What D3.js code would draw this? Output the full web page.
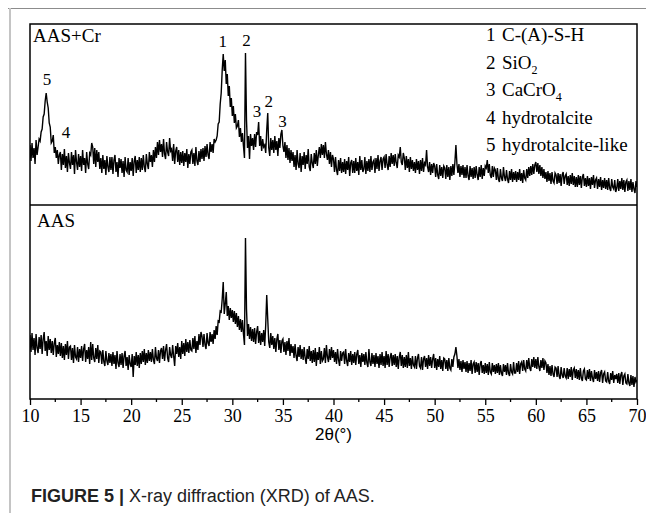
<!DOCTYPE html>
<html>
<head>
<meta charset="utf-8">
<script src="https://cdn.jsdelivr.net/npm/d3@7/dist/d3.min.js"></script>
<style>
  body { margin: 0; background: #fff; }
  svg { display: block; }
</style>
</head>
<body>
<svg id="chart" width="646" height="513"></svg>
<script>
// XRD patterns, 2theta from 10 to 70 deg in 0.1 deg steps (intensity a.u.)
const angleStart = 10;
const angleStep = 0.1;

const aasCr = [
  60,44,62,47,57,41,65,50,58,66, 64,73,76,88,91,104,112,103,97,82,
  78,62,64,70,52,58,47,55,41,50, 53,35,51,40,56,37,49,33,52,42,
  36,53,40,50,31,55,43,35,51,38, 49,34,55,40,47,32,53,41,36,52,
  50,62,58,41,57,38,55,43,53,36, 47,32,50,36,45,30,49,38,33,48,
  35,48,31,45,50,33,43,28,47,37, 46,32,44,28,48,35,33,47,30,43,
  34,47,29,44,49,32,45,35,48,33, 47,35,50,38,33,51,41,36,53,43,
  50,38,55,43,58,47,63,50,65,53, 61,48,66,51,46,63,53,49,67,54,
  56,44,61,41,54,58,43,55,40,53, 42,54,39,52,43,56,37,51,41,53,
  55,41,52,39,58,44,40,54,43,56, 46,57,44,59,48,61,50,46,63,53,
  61,52,66,63,65,69,81,83,101,112, 135,151,134,145,121,131,109,119,98,107,
  89,99,82,91,77,79,85,68,77,63, 72,59,47,152,85,57,69,46,71,59,
  67,55,71,58,73,70,83,59,69,54, 66,58,60,52,75,92,57,49,67,55,
  65,52,69,55,64,49,67,57,71,75, 59,53,63,47,60,45,57,42,55,44,
  53,38,50,35,55,41,37,52,33,49, 40,53,36,50,41,56,38,34,51,42,
  37,52,41,55,39,50,58,47,61,50, 60,47,63,51,45,55,41,53,38,50,
  46,33,48,35,30,45,34,47,32,43, 33,46,31,44,35,48,29,42,45,32,
  44,32,47,34,43,30,49,35,45,33, 36,48,31,44,34,46,33,49,35,43,
  45,32,47,36,50,34,44,48,35,46, 48,37,51,40,35,49,38,52,41,50,
  39,51,42,37,50,48,58,43,40,52, 47,35,49,37,46,33,48,36,45,34,
  43,32,46,35,44,31,45,34,47,33, 42,40,55,38,33,43,30,41,32,42,
  39,28,41,30,26,40,29,38,27,39, 37,26,40,28,38,25,39,29,41,30,
  43,60,41,32,41,28,39,30,40,27, 38,27,40,29,25,39,28,37,26,38,
  27,39,30,25,38,28,40,26,37,29, 39,37,45,32,41,30,27,39,28,37,
  35,25,37,26,23,36,27,24,38,28, 24,35,26,22,34,25,36,23,33,25,
  34,23,33,25,36,24,32,22,35,27, 25,36,27,38,29,39,30,41,31,40,
  43,33,42,31,40,29,38,27,36,26, 33,23,34,24,32,21,33,24,22,32,
  30,21,32,22,31,19,30,33,21,29, 31,20,29,19,30,21,32,20,29,18,
  28,18,30,20,29,17,28,31,19,27, 18,29,19,27,16,28,20,30,17,25,
  27,16,26,18,28,15,25,17,27,16, 25,15,27,17,14,26,18,16,25,13,
  17,26,14,24,16,27,15,25,13,23, 25,14,24,15,26,13,23,16,12,24,
  18
];

const aas = [
  64,47,66,49,61,44,65,51,46,62, 50,64,45,60,67,48,58,43,63,49,
  60,46,58,44,56,61,42,54,45,57, 43,56,41,53,39,55,44,58,40,52,
  53,39,51,36,54,42,40,52,37,50, 41,53,38,50,55,37,49,40,52,35,
  57,39,55,41,37,51,40,54,36,48, 47,35,49,37,33,48,38,34,46,36,
  45,33,47,35,44,30,48,36,32,45, 34,46,31,43,48,33,42,29,44,35,
  32,45,22,43,34,47,33,44,31,46, 35,48,37,50,34,46,36,49,38,47,
  37,50,39,35,52,41,38,49,36,48, 51,40,53,38,49,55,41,37,52,44,
  41,54,43,33,53,45,56,42,52,40, 58,45,56,43,60,47,57,46,59,49,
  48,61,50,63,46,58,49,65,54,67, 63,52,65,54,50,66,56,53,67,57,
  65,55,69,60,73,64,78,77,88,87, 100,117,85,95,107,83,93,79,91,81,
  89,77,88,75,86,72,83,69,80,67, 79,65,54,161,90,63,75,60,72,58,
  70,57,71,55,67,73,56,68,54,66, 57,69,53,74,104,80,57,51,66,54,
  63,50,61,47,60,65,49,59,46,58, 60,47,57,44,58,48,61,43,55,46,
  53,41,55,43,38,52,42,54,40,50, 39,52,41,35,50,40,53,38,48,36,
  49,37,51,33,47,39,52,35,48,38, 40,51,36,54,42,37,50,39,52,41,
  49,37,47,35,50,39,33,48,38,46, 47,35,50,38,33,46,37,48,34,45,
  36,47,34,45,49,35,44,32,46,37, 45,34,47,36,32,50,37,33,46,35,
  44,32,46,35,43,31,45,34,47,33, 43,31,48,34,45,32,42,46,33,44,
  34,45,32,43,30,42,47,33,44,31, 42,32,44,31,47,33,41,30,43,34,
  32,43,30,41,45,33,31,42,29,40, 43,32,41,30,44,33,42,31,40,45,
  31,41,29,40,32,43,30,39,28,41, 40,30,39,28,41,31,29,40,32,42,
  45,52,43,31,40,29,38,27,39,30, 37,27,38,26,36,28,39,25,35,37,
  26,37,27,36,24,35,38,26,34,25, 36,26,35,24,37,27,25,36,27,34,
  25,35,26,36,24,34,26,23,35,27, 34,24,36,26,23,35,27,25,37,26,
  26,36,27,38,25,35,37,28,39,30, 28,39,30,41,31,28,40,32,42,31,
  40,30,42,32,28,39,31,41,29,38, 36,26,35,24,33,23,34,25,22,32,
  31,22,33,23,20,32,24,21,31,23, 21,31,20,30,22,32,19,29,31,21,
  30,20,29,19,31,21,18,28,30,20, 19,29,20,30,18,28,21,17,29,20,
  27,18,28,17,26,29,16,25,27,18, 17,27,18,15,26,19,28,16,24,20,
  25,16,26,15,24,27,14,23,25,16, 15,25,16,13,24,14,23,12,22,17,
  19
];

const xTicks = [10, 15, 20, 25, 30, 35, 40, 45, 50, 55, 60, 65, 70];

// peak markers in the AAS+Cr pattern: label, 2theta, intensity where the digit sits
const peakNames = ['5', '4', '1', '2', '3', '2', '3'];
const peakAngles = [11.68, 13.56, 29.05, 31.4, 32.44, 33.6, 34.96];
const peakLevels = [120, 67, 158, 159, 88, 98, 78];

const legendNums = ['1', '2', '3', '4', '5'];
const legendNames = ['C-(A)-S-H', 'SiO', 'CaCrO', 'hydrotalcite', 'hydrotalcite-like'];
const legendSubs = ['', '2', '4', '', ''];

const svg = d3.select('#chart');
const margin = { left: 30, right: 9, top: 24 };
const plotRight = 646 - margin.right;
const midY = 205;
const bottomY = 399;

const serif = '"Liberation Serif", "Times New Roman", serif';
const sans = '"Liberation Sans", Arial, sans-serif';

// page decoration (journal frame)
svg.append('line').attr('x1', 8).attr('x2', 646).attr('y1', 8.5).attr('y2', 8.5)
  .style('stroke', '#8c8c8c').style('stroke-width', 1);
svg.append('line').attr('x1', 10).attr('x2', 10).attr('y1', 8).attr('y2', 513)
  .style('stroke', '#c4c4c4').style('stroke-width', 2);

const x = d3.scaleLinear().domain([10, 70]).range([margin.left, plotRight]);
const yTop = d3.scaleLinear().domain([0, midY - margin.top]).range([midY, margin.top]);
const yBot = d3.scaleLinear().domain([0, bottomY - midY]).range([bottomY, midY]);

const angles = aasCr.map((_, i) => angleStart + i * angleStep);

svg.append('clipPath').attr('id', 'plotclip')
  .append('rect').attr('x', margin.left).attr('y', margin.top)
  .attr('width', plotRight - margin.left).attr('height', bottomY - margin.top);

const lineTop = d3.line().x((d, i) => x(angles[i])).y(d => yTop(d));
const lineBot = d3.line().x((d, i) => x(angles[i])).y(d => yBot(d));

const g = svg.append('g').attr('clip-path', 'url(#plotclip)');
g.append('path').datum(aasCr).attr('d', lineTop)
  .style('fill', 'none').style('stroke', '#000').style('stroke-width', 1.4);
g.append('path').datum(aas).attr('d', lineBot)
  .style('fill', 'none').style('stroke', '#000').style('stroke-width', 1.4);

// frame and panel divider
svg.append('rect').attr('x', margin.left).attr('y', margin.top)
  .attr('width', plotRight - margin.left).attr('height', bottomY - margin.top)
  .style('fill', 'none').style('stroke', '#000').style('stroke-width', 1.5);
svg.append('line').attr('x1', margin.left).attr('x2', plotRight).attr('y1', midY).attr('y2', midY)
  .style('stroke', '#000').style('stroke-width', 1.5);

// x axis
const xAxis = d3.axisBottom(x).tickValues(xTicks).tickSize(6).tickFormat(d3.format('d')).tickPadding(4);
const ax = svg.append('g').attr('transform', `translate(0,${bottomY})`).call(xAxis);
ax.select('.domain').remove();
ax.selectAll('.tick line').style('stroke', '#000').style('stroke-width', 1.3);
ax.selectAll('.tick text').style('font-family', serif).style('font-size', '18px').style('fill', '#000');

const minor = xTicks.slice(0, -1).map(d => d + 2.5);
svg.append('g').selectAll('line').data(minor).enter().append('line')
  .attr('x1', d => x(d)).attr('x2', d => x(d)).attr('y1', bottomY).attr('y2', bottomY + 3)
  .style('stroke', '#000').style('stroke-width', 1.3);

svg.append('text').attr('x', (margin.left + plotRight) / 2).attr('y', 440)
  .attr('text-anchor', 'middle').style('font-family', sans).style('font-size', '17px')
  .text('2θ(°)');

// panel labels
svg.append('text').attr('x', margin.left + 3).attr('y', 42)
  .style('font-family', serif).style('font-size', '19px').text('AAS+Cr');
svg.append('text').attr('x', margin.left + 7).attr('y', 227)
  .style('font-family', serif).style('font-size', '19px').text('AAS');

// peak markers
svg.append('g').selectAll('text').data(peakNames).enter().append('text')
  .attr('x', (d, i) => x(peakAngles[i]))
  .attr('y', (d, i) => yTop(peakLevels[i]))
  .attr('text-anchor', 'middle')
  .style('font-family', serif).style('font-size', '17px')
  .text(d => d);

// phase legend
const leg = svg.append('g').attr('transform', 'translate(486,41)');
legendNums.forEach((n, i) => {
  const t = leg.append('text').attr('y', i * 27.6)
    .style('font-family', serif).style('font-size', '19px');
  t.append('tspan').attr('x', 0).text(n);
  t.append('tspan').attr('x', 16).text(legendNames[i]);
  if (legendSubs[i]) {
    t.append('tspan').attr('dy', 5).style('font-size', '12px').text(legendSubs[i]);
  }
});

// caption
const cap = svg.append('text').attr('x', 31).attr('y', 502)
  .style('font-family', sans).style('font-size', '18px').style('fill', '#222');
cap.append('tspan').style('font-weight', 'bold').text('FIGURE 5 | ');
cap.append('tspan').text('X-ray diffraction (XRD) of AAS.');
</script>
</body>
</html>
